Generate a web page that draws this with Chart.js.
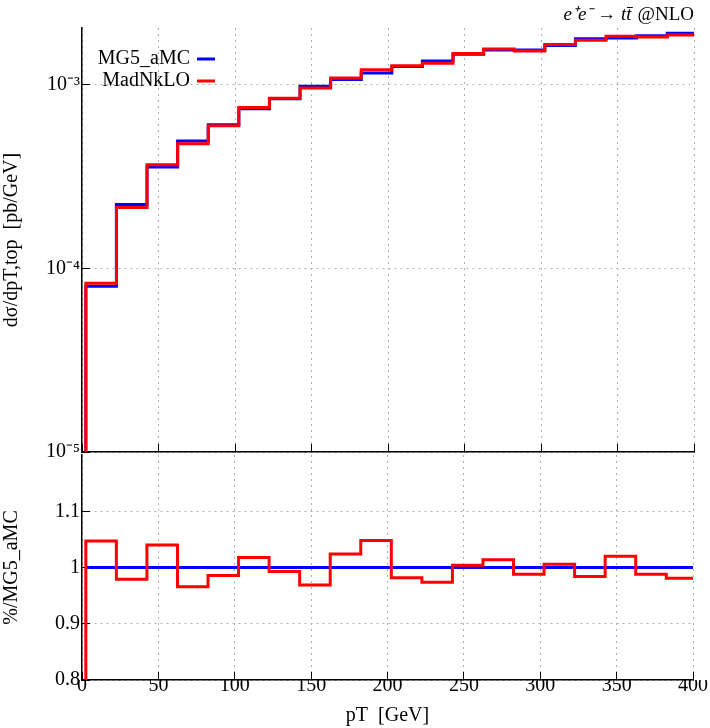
<!DOCTYPE html>
<html>
<head>
<meta charset="utf-8">
<script src="https://cdn.jsdelivr.net/npm/chart.js@4/dist/chart.umd.min.js"></script>
<style>
  body { margin: 0; background: #fff; }
  .painel { position: absolute; left: 0; width: 710px; }
</style>
</head>
<body>
<div class="painel" style="top:0;height:474px"><canvas id="topo"></canvas></div>
<div class="painel" style="top:433px;height:295px"><canvas id="razao"></canvas></div>
<script>
// bin edges in pT [GeV]
const bordas = [2.5, 22.5, 42.5, 62.5, 82.5, 102.5, 122.5, 142.5, 162.5, 182.5, 202.5,
    222.5, 242.5, 262.5, 282.5, 302.5, 322.5, 342.5, 362.5, 382.5, 400];
const mg5 = [8.0e-5, 2.23e-4, 3.57e-4, 4.94e-4, 6.07e-4, 7.41e-4, 8.40e-4, 9.84e-4, 1.07e-3, 1.16e-3,
    1.26e-3, 1.35e-3, 1.47e-3, 1.55e-3, 1.55e-3, 1.64e-3, 1.78e-3, 1.80e-3, 1.85e-3, 1.91e-3];
const madnk = [8.3e-5, 2.15e-4, 3.67e-4, 4.77e-4, 5.98e-4, 7.53e-4, 8.45e-4, 9.60e-4, 1.09e-3, 1.21e-3,
    1.27e-3, 1.31e-3, 1.48e-3, 1.57e-3, 1.53e-3, 1.66e-3, 1.75e-3, 1.84e-3, 1.82e-3, 1.87e-3];
const razaoMad = [1.047, 0.979, 1.040, 0.966, 0.986, 1.018, 0.993, 0.969, 1.024, 1.048,
    0.982, 0.974, 1.004, 1.014, 0.988, 1.006, 0.984, 1.020, 0.988, 0.981];
const razaoMg5 = bordas.slice(0, -1).map(() => 1);
const ticksX = [0, 50, 100, 150, 200, 250, 300, 350, 400];
const ticksLog = [1e-5, 1e-4, 1e-3];
const ticksRazao = [0.8, 0.9, 1.0, 1.1];

const fonte = 'Liberation Serif';
Chart.defaults.font.family = fonte;
Chart.defaults.font.size = 20;
Chart.defaults.color = '#000';

// histogram as a stepped line: each point sits on the right edge of its bin
function degraus(valores, base) {
    const pts = [{ x: bordas[0], y: base }];
    valores.forEach((v, i) => pts.push({ x: bordas[i + 1], y: v }));
    return pts;
}
const serie = (label, data, cor) => ({
    label, data, borderColor: cor, borderWidth: 3, stepped: 'after',
    pointRadius: 0, fill: false, clip: false
});
const grade = { color: '#b0b0b0', drawTicks: true, tickLength: -8, tickColor: '#000' };
const borda = { color: '#000', width: 1.5, dash: [2, 4] };

const sup = { '-': '⁻', '3': '³', '4': '⁴', '5': '⁵' };
const rotuloLog = v => '10' + String(Math.round(Math.log10(v))).split('').map(c => sup[c]).join('');

const textoExtra = {
    id: 'textoExtra',
    afterDraw(chart) {
        const ctx = chart.ctx, a = chart.chartArea;
        ctx.save();
        ctx.fillStyle = '#000';
        ctx.textAlign = 'right';
        ctx.textBaseline = 'alphabetic';
        ctx.font = '19px ' + fonte;
        ctx.fillText('@NLO', a.right, 20);
        const w = ctx.measureText('@NLO').width;
        ctx.font = 'italic 19px ' + fonte;
        ctx.fillText('e⁺e⁻ → tt̄', a.right - w - 6, 20);
        // legend
        ctx.font = '20px ' + fonte;
        const itens = [['MG5_aMC', '#0000ff'], ['MadNkLO', '#ff0000']];
        itens.forEach(([t, c], i) => {
            const y = 59 + i * 22;
            ctx.textBaseline = 'middle';
            ctx.fillStyle = '#000';
            ctx.fillText(t, a.left + 108, y);
            ctx.strokeStyle = c; ctx.lineWidth = 3;
            ctx.beginPath(); ctx.moveTo(a.left + 115, y); ctx.lineTo(a.left + 133, y); ctx.stroke();
        });
        ctx.restore();
    }
};

new Chart(document.getElementById('topo'), {
    type: 'line',
    data: { datasets: [serie('MadNkLO', degraus(madnk, 1e-5), '#ff0000'), serie('MG5_aMC', degraus(mg5, 1e-5), '#0000ff')] },
    options: {
        responsive: true, maintainAspectRatio: false, animation: false,
        layout: { padding: { top: 28, right: 16, bottom: 0, left: 0 } },
        plugins: { legend: { display: false }, tooltip: { enabled: false } },
        scales: {
            x: {
                type: 'linear', min: 0, max: 400,
                afterBuildTicks: ax => { ax.ticks = ticksX.map(v => ({ value: v })); },
                ticks: { display: false },
                afterFit: ax => { ax.height = 2; },
                grid: grade, border: borda
            },
            y: {
                type: 'logarithmic', min: 1e-5, max: 2.04e-3,
                afterBuildTicks: ax => { ax.ticks = ticksLog.map(v => ({ value: v })); },
                afterFit: ax => { ax.width = 82; },
                ticks: { callback: rotuloLog, padding: 10 },
                grid: grade, border: borda,
                title: { display: true, text: 'dσ/dpT,top  [pb/GeV]', padding: 0 }
            }
        }
    },
    plugins: [textoExtra]
});

new Chart(document.getElementById('razao'), {
    type: 'line',
    data: { datasets: [serie('MadNkLO', degraus(razaoMad, 0.8), '#ff0000'), serie('MG5_aMC', degraus(razaoMg5, 1), '#0000ff')] },
    options: {
        responsive: true, maintainAspectRatio: false, animation: false,
        layout: { padding: { top: 1, right: 16, bottom: 0, left: 0 } },
        plugins: { legend: { display: false }, tooltip: { enabled: false } },
        scales: {
            x: {
                type: 'linear', min: 0, max: 400,
                afterBuildTicks: ax => { ax.ticks = ticksX.map(v => ({ value: v })); },
                afterFit: ax => { ax.height = 48; },
                ticks: { padding: 2 },
                grid: grade, border: borda,
                title: { display: true, text: 'pT  [GeV]', padding: 0 }
            },
            y: {
                min: 0.8, max: 1.2,
                afterBuildTicks: ax => { ax.ticks = ticksRazao.map(v => ({ value: v })); },
                afterFit: ax => { ax.width = 82; },
                ticks: { padding: 10, callback: v => String(Math.round(v * 10) / 10) },
                grid: grade, border: borda,
                title: { display: true, text: '%/MG5_aMC', padding: 0 }
            }
        }
    }
});
</script>
</body>
</html>
